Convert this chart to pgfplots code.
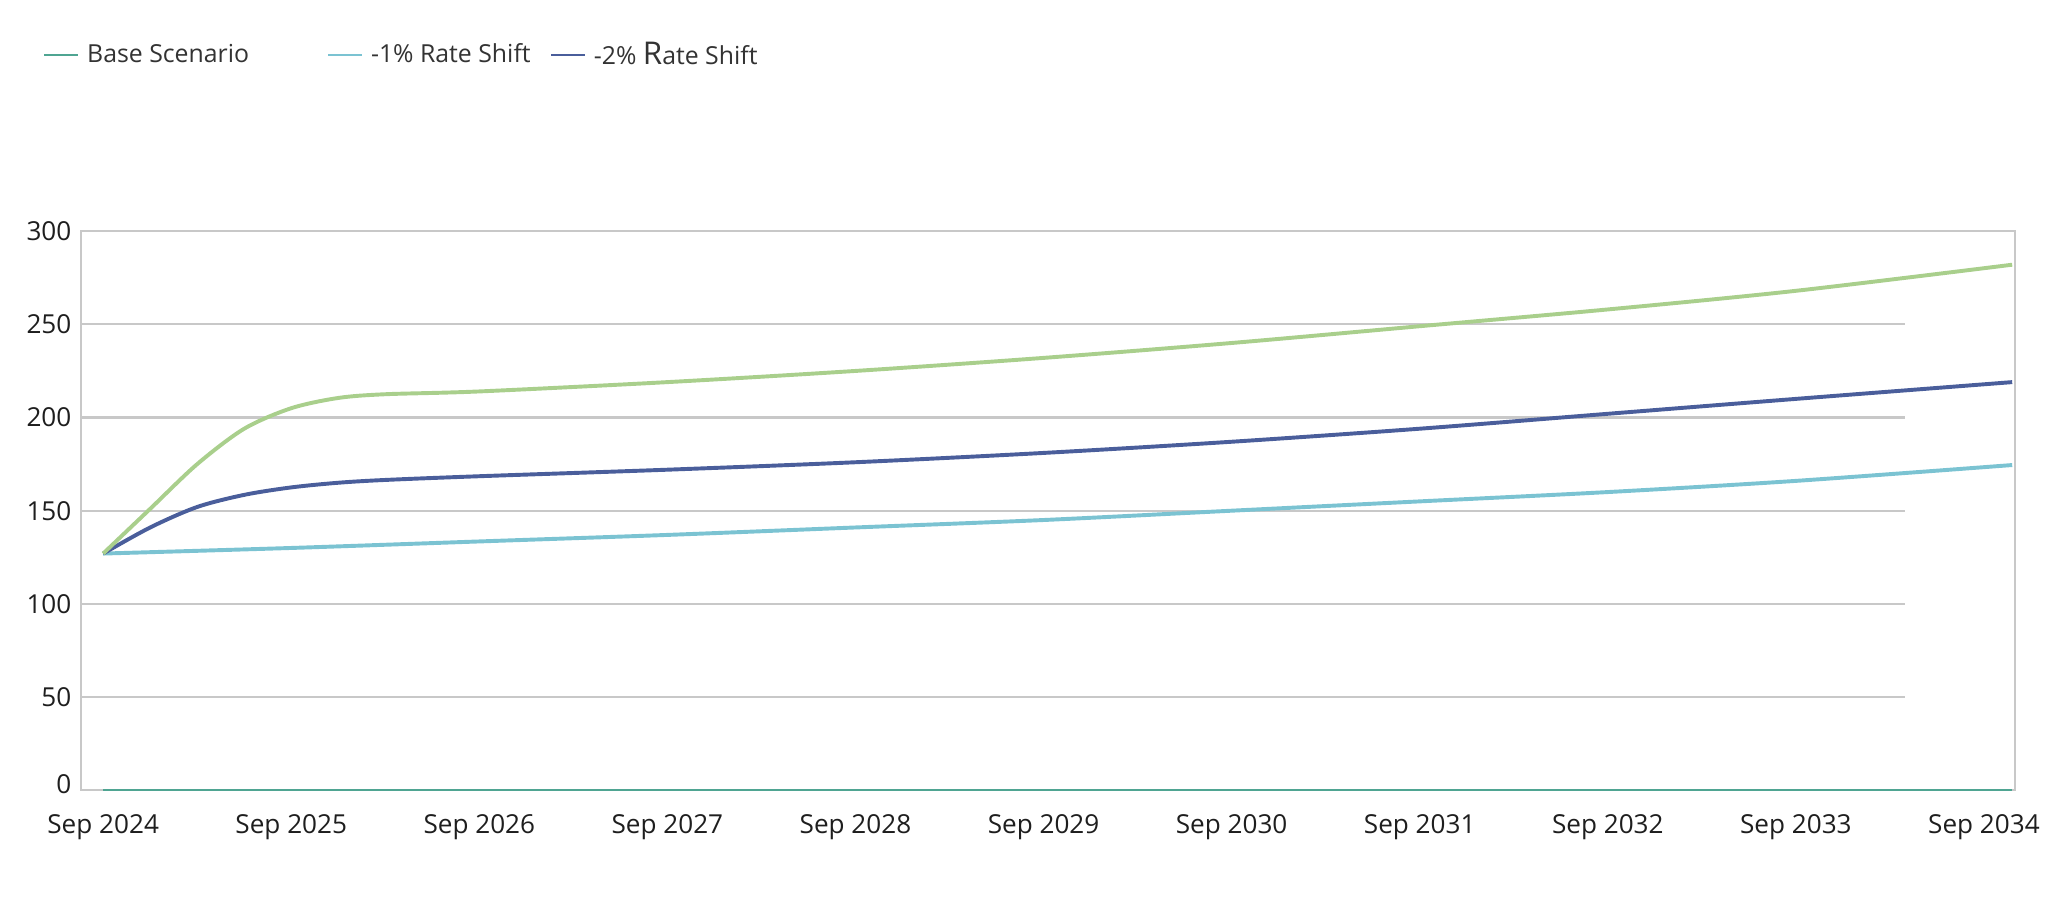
\documentclass[border=0pt]{standalone}
\usepackage{fontspec}
\setmainfont{Open Sans}
\usepackage{pgfplots}
\pgfplotsset{compat=1.18}
\definecolor{basecol}{HTML}{4FA592}
\definecolor{greencol}{HTML}{A9CF8C}
\definecolor{lightblue}{HTML}{7BC3D2}
\definecolor{darkblue}{HTML}{4A5E9B}
\definecolor{gridgray}{HTML}{C8C8C8}
\definecolor{labeltext}{HTML}{1E1E1E}

\begin{document}
\begin{tikzpicture}
\begin{axis}[
    scale only axis,
    width=740.5pt, height=214pt,
    xmin=-0.118, xmax=10.167,
    ymin=0, ymax=300,
    axis line style={gridgray, line width=0.8pt},
    major tick length=0pt,
    xtick={0,1,2,3,4,5,6,7,8,9,10},
    xticklabels={Sep 2024,Sep 2025,Sep 2026,Sep 2027,Sep 2028,Sep 2029,Sep 2030,Sep 2031,Sep 2032,Sep 2033,Sep 2034},
    ytick={0,50,100,150,200,250,300},
    yticklabels={\raisebox{5pt}{0},50,100,150,200,250,300},
    tick label style={font=\fontsize{10}{12}\selectfont, text=labeltext},
    yticklabel style={inner sep=0pt, xshift=-3.5pt},
    xticklabel style={inner sep=0pt, yshift=-9pt},
    legend style={at={(axis description cs:-0.0196,1.3154)}, anchor=west,
        draw=none, inner sep=0pt, font=\fontsize{9.5}{11}\selectfont, text=black!80,
        legend columns=3,
        /tikz/column 1/.style={column sep=1pt},
        /tikz/column 2/.style={column sep=28pt},
        /tikz/column 3/.style={column sep=1pt},
        /tikz/column 4/.style={column sep=5.5pt},
        /tikz/column 5/.style={column sep=1pt}},
    legend cell align=left,
    legend image code/.code={\draw[#1, line width=0.7pt] (0pt,0pt) -- (13pt,0pt);},
]
\pgfplotsinvokeforeach{50,100,150,200,250}{
    \draw[gridgray, line width=0.8pt] (axis cs:-0.118,#1) -- (axis cs:9.58,#1);
}

\addplot[basecol, line width=1pt] coordinates {(0,0) (10.15,0)};
\addlegendentry{Base Scenario}

\addplot[lightblue, line width=1.5pt, smooth] coordinates {
    (0,127) (1,130) (2,133.5) (3,137) (4,141) (5,145) (6,150)
    (7,155) (8,160) (9,166) (10.15,174.5)};
\addlegendentry{-1\% Rate Shift}

\addplot[darkblue, line width=1.5pt, smooth] coordinates {
    (0,127) (0.25,141) (0.5,152) (0.75,158.5) (1,162.5) (1.25,165)
    (1.5,166.5) (2,168.5) (3,172) (4,176) (5,181) (6,187) (7,194)
    (8,202) (9,210) (10.15,219)};
\addlegendentry{-2\% {\fontsize{12}{12}\selectfont R}ate Shift}

\addplot[greencol, line width=1.5pt, smooth, forget plot] coordinates {
    (0,127) (0.25,151) (0.5,175) (0.75,194) (1,205) (1.25,210.5)
    (1.5,212.5) (2,214) (3,219) (4,225) (5,232) (6,240) (7,249)
    (8,258) (9,268) (10.15,282)};
\end{axis}
\pgfresetboundingbox
\path[use as bounding box] ([xshift=-31pt,yshift=-46pt]current axis.south west)
    rectangle ([xshift=12.5pt,yshift=88.5pt]current axis.north east);
\end{tikzpicture}
\end{document}
